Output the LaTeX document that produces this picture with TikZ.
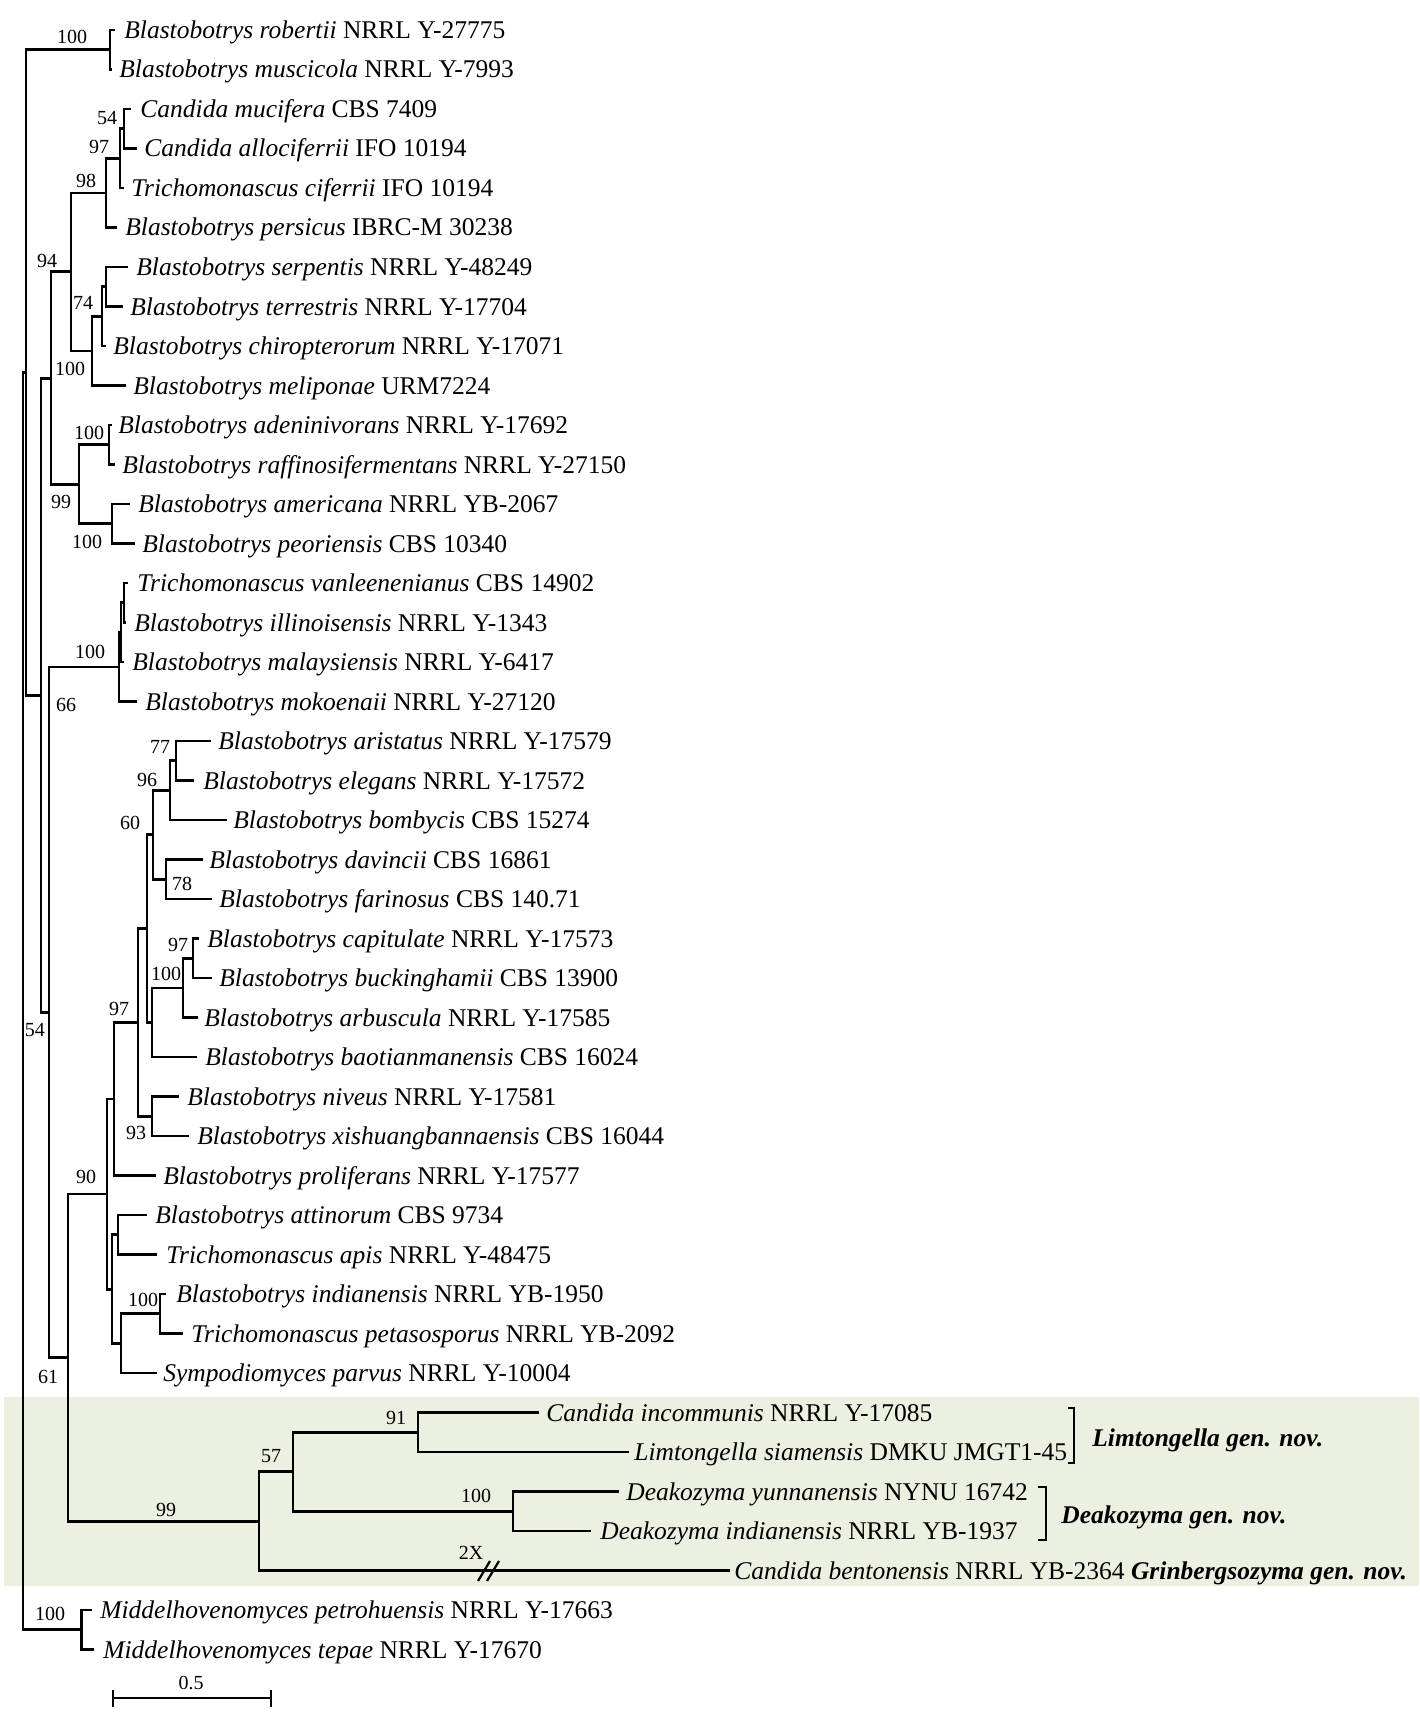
\documentclass[tikz,border=0pt]{standalone}
\usepackage{fontspec}
\setmainfont{Liberation Serif}
\definecolor{shadegreen}{RGB}{236,240,224}
\begin{document}
\begin{tikzpicture}[x=0.5pt,y=-0.5pt,
  br/.style={line width=1.4pt},
  leaf/.style={anchor=base west,inner sep=0pt,font=\fontsize{12.75}{15}\selectfont},
  bs/.style={inner sep=0pt,font=\fontsize{10}{12}\selectfont},
  grp/.style={anchor=base west,inner sep=0pt,font=\fontsize{12.75}{15}\selectfont\bfseries\itshape},
  brk/.style={line width=1.1pt}]
\useasboundingbox (0,0) rectangle (1419,1722);
\fill[shadegreen] (4,1397) rectangle (1419,1586);

% leaves: number / line end x / y / text x / text
\foreach \n/\e/\y/\t/\txt in {
 1/115/30/124/{\textit{Blastobotrys robertii} NRRL Y-27775},
 2/112/69.5/119/{\textit{Blastobotrys muscicola} NRRL Y-7993},
 3/131/109/140/{\textit{Candida mucifera} CBS 7409},
 4/137/148.5/144/{\textit{Candida allociferrii} IFO 10194},
 5/124/188/131/{\textit{Trichomonascus ciferrii} IFO 10194},
 6/117/227.5/125/{\textit{Blastobotrys persicus} IBRC-M 30238},
 7/128/267/136/{\textit{Blastobotrys serpentis} NRRL Y-48249},
 8/123/306.5/130/{\textit{Blastobotrys terrestris} NRRL Y-17704},
 9/106/346/113/{\textit{Blastobotrys chiropterorum} NRRL Y-17071},
 10/126/385.5/133/{\textit{Blastobotrys meliponae} URM7224},
 11/112/425/118/{\textit{Blastobotrys adeninivorans} NRRL Y-17692},
 12/115/464.5/122/{\textit{Blastobotrys raffinosifermentans} NRRL Y-27150},
 13/130/504/138/{\textit{Blastobotrys americana} NRRL YB-2067},
 14/135/543.5/142/{\textit{Blastobotrys peoriensis} CBS 10340},
 15/128/583/137/{\textit{Trichomonascus vanleenenianus} CBS 14902},
 16/126/622.5/134/{\textit{Blastobotrys illinoisensis} NRRL Y-1343},
 17/124/662/132/{\textit{Blastobotrys malaysiensis} NRRL Y-6417},
 18/137/701.5/145/{\textit{Blastobotrys mokoenaii} NRRL Y-27120},
 19/211/741/218/{\textit{Blastobotrys aristatus} NRRL Y-17579},
 20/194/780.5/203/{\textit{Blastobotrys elegans} NRRL Y-17572},
 21/227/820/233/{\textit{Blastobotrys bombycis} CBS 15274},
 22/203/859.5/209/{\textit{Blastobotrys davincii} CBS 16861},
 23/212/899/219/{\textit{Blastobotrys farinosus} CBS 140.71},
 24/199/938.5/207/{\textit{Blastobotrys capitulate} NRRL Y-17573},
 25/212/978/219/{\textit{Blastobotrys buckinghamii} CBS 13900},
 26/198/1017.5/204/{\textit{Blastobotrys arbuscula} NRRL Y-17585},
 27/197/1057/205/{\textit{Blastobotrys baotianmanensis} CBS 16024},
 28/179/1096.5/187/{\textit{Blastobotrys niveus} NRRL Y-17581},
 29/189/1136/197/{\textit{Blastobotrys xishuangbannaensis} CBS 16044},
 30/156/1175.5/163/{\textit{Blastobotrys proliferans} NRRL Y-17577},
 31/147/1215/155/{\textit{Blastobotrys attinorum} CBS 9734},
 32/157/1254.5/166/{\textit{Trichomonascus apis} NRRL Y-48475},
 33/166/1294/176/{\textit{Blastobotrys indianensis} NRRL YB-1950},
 34/183/1333.5/191/{\textit{Trichomonascus petasosporus} NRRL YB-2092},
 35/157/1373/163/{\textit{Sympodiomyces parvus} NRRL Y-10004},
 36/539/1412.5/546/{\textit{Candida incommunis} NRRL Y-17085},
 37/629/1452/634/{\textit{Limtongella siamensis} DMKU JMGT1-45},
 38/619/1491.5/626/{\textit{Deakozyma yunnanensis} NYNU 16742},
 39/591/1531/600/{\textit{Deakozyma indianensis} NRRL YB-1937},
 40/730/1570.5/734/{\textit{Candida bentonensis} NRRL YB-2364 {\bfseries\itshape Grinbergsozyma gen. nov.}},
 41/92/1610/100/{\textit{Middelhovenomyces petrohuensis} NRRL Y-17663},
 42/94/1649.5/103/{\textit{Middelhovenomyces tepae} NRRL Y-17670}}
{
 \coordinate (L\n) at (\e,\y);
 \node[leaf] (T\n) at (\t,\y+8.5) {\txt};
}

% internal nodes
\coordinate (nA) at (110,49.75);
\coordinate (n54) at (124,128.75);
\coordinate (n97a) at (120,158.4);
\coordinate (n98) at (106,192.95);
\coordinate (nS) at (106,286.75);
\coordinate (n74) at (102,316.4);
\coordinate (n100b) at (92,350.95);
\coordinate (n94) at (71,271.9);
\coordinate (nAd) at (109,444.75);
\coordinate (nAm) at (112,523.75);
\coordinate (n99) at (79,484.25);
\coordinate (nM) at (51,378.1);
\coordinate (nV1) at (124,602.75);
\coordinate (nV2) at (121,632.4);
\coordinate (nV3) at (119,666.9);
\coordinate (n77) at (176,760.75);
\coordinate (n96) at (170,790.4);
\coordinate (n78) at (166,879.25);
\coordinate (n60) at (153,834.8);
\coordinate (n97c) at (193,958.25);
\coordinate (n100c) at (183,987.9);
\coordinate (n100d) at (152,1022.45);
\coordinate (nP) at (147,928.6);
\coordinate (n93) at (152,1116.25);
\coordinate (n97b) at (138,1022.4);
\coordinate (nQ) at (114,1098.95);
\coordinate (nAt) at (118,1234.75);
\coordinate (nIn) at (160,1313.75);
\coordinate (nSy) at (121,1343.4);
\coordinate (nR) at (112,1289.1);
\coordinate (n90) at (107,1194);
\coordinate (n91) at (418,1432.25);
\coordinate (n100e) at (513,1511.25);
\coordinate (nT) at (293,1471.75);
\coordinate (n57) at (259,1521.1);
\coordinate (n61) at (68,1357.55);
\coordinate (n66) at (49,1012.2);
\coordinate (n54b) at (41,695.15);
\coordinate (n26) at (26,372.45);
\coordinate (nMid) at (81.5,1629.75);
\coordinate (root) at (23,1001.1);

\foreach \p/\c in {nA/L1, nA/L2, n54/L3, n54/L4, n97a/n54, n97a/L5, n98/n97a, n98/L6,
 nS/L7, nS/L8, n74/nS, n74/L9, n100b/n74, n100b/L10, n94/n98, n94/n100b,
 nAd/L11, nAd/L12, nAm/L13, nAm/L14, n99/nAd, n99/nAm, nM/n94, nM/n99,
 nV1/L15, nV1/L16, nV2/nV1, nV2/L17, nV3/nV2, nV3/L18,
 n77/L19, n77/L20, n96/n77, n96/L21, n78/L22, n78/L23, n60/n96, n60/n78,
 n97c/L24, n97c/L25, n100c/n97c, n100c/L26, n100d/n100c, n100d/L27,
 nP/n60, nP/n100d, n93/L28, n93/L29, n97b/nP, n97b/n93, nQ/n97b, nQ/L30,
 nAt/L31, nAt/L32, nIn/L33, nIn/L34, nSy/nIn, nSy/L35, nR/nAt, nR/nSy,
 n90/nQ, n90/nR, n91/L36, n91/L37, n100e/L38, n100e/L39, nT/n91, nT/n100e,
 n57/nT, n57/L40, n61/n90, n61/n57, n66/nV3, n66/n61, n54b/nM, n54b/n66,
 n26/nA, n26/n54b, nMid/L41, nMid/L42, root/n26, root/nMid}
 \draw[br] (\p) |- (\c);

% bootstrap values
\foreach \i/\x/\y/\v in {1/72/37/100, 2/107/118/54, 3/99/147/97, 4/86/181/98, 5/47/261/94,
 6/83/303/74, 7/70/369/100, 8/89/433/100, 9/61/502/99, 10/87/542/100, 11/90/652/100,
 12/66/705/66, 13/160/747/77, 14/147/780/96, 15/130/823/60, 16/182/884/78,
 17/178/945/97, 18/166/974/100, 19/119/1009/97, 20/35/1030/54, 21/136/1133/93,
 22/86/1177/90, 23/143/1300/100, 24/48/1377/61, 25/396/1418/91, 26/271/1456/57,
 27/476/1496/100, 28/166/1510/99, 29/471/1553/2X, 30/50/1614/100}
 \node[bs] (b\i) at (\x,\y) {\v};

% break marks on the long branch
\coordinate (k1a) at (478,1581); \coordinate (k1b) at (490,1561);
\coordinate (k2a) at (487,1581); \coordinate (k2b) at (499,1561);
\draw[brk] (k1a) -- (k1b);
\draw[brk] (k2a) -- (k2b);

% brackets and genus labels
\coordinate (g1a) at (1068,1408); \coordinate (g1b) at (1068,1463);
\draw[br] (g1a) -- ++(6,0) |- (g1b);
\node[grp] (G1) at (1092,1446) {Limtongella gen. nov.};
\coordinate (g2a) at (1038,1487); \coordinate (g2b) at (1038,1540);
\draw[br] (g2a) -- ++(8,0) |- (g2b);
\node[grp] (G2) at (1061,1523) {Deakozyma gen. nov.};

% scale bar
\coordinate (sb1) at (113,1698); \coordinate (sb2) at (271,1698);
\draw[br] (sb1) -- (sb2);
\draw[br] ([yshift=4pt]sb1) -- ([yshift=-4.5pt]sb1);
\draw[br] ([yshift=4pt]sb2) -- ([yshift=-4.5pt]sb2);
\node[bs] (sbl) at (191,1683) {0.5};
\end{tikzpicture}
\end{document}
